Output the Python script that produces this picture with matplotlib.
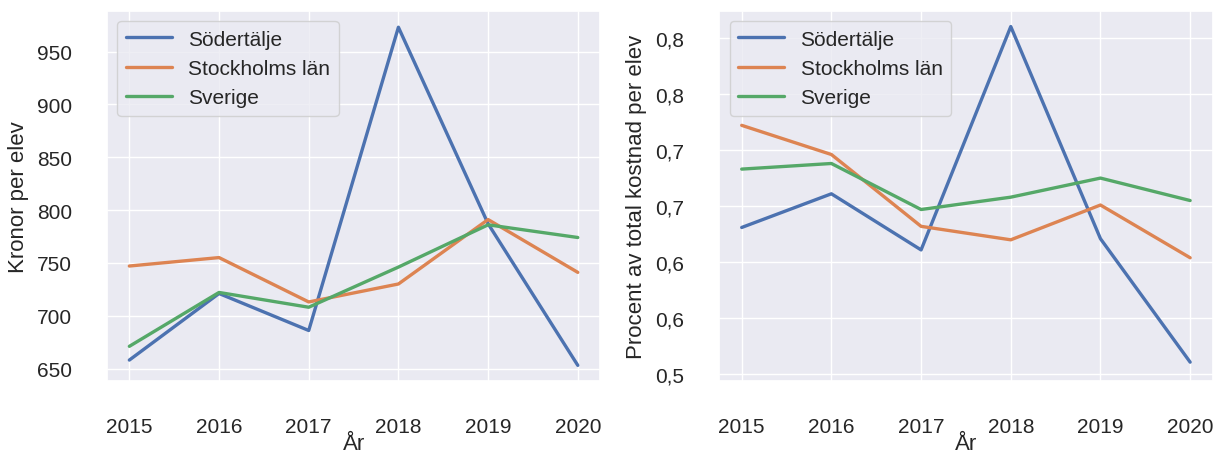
import matplotlib
matplotlib.use("Agg")
import matplotlib.pyplot as plt
import seaborn as sns

years = [2015, 2016, 2017, 2018, 2019, 2020]
series_names = ["Södertälje", "Stockholms län", "Sverige"]

kronor_sodertalje = [658, 721, 686, 973, 787, 653]
kronor_stockholm = [747, 755, 713, 730, 791, 741]
kronor_sverige = [671, 722, 708, 746, 786, 774]

procent_sodertalje = [0.631, 0.661, 0.611, 0.810, 0.621, 0.511]
procent_stockholm = [0.722, 0.696, 0.632, 0.620, 0.651, 0.604]
procent_sverige = [0.683, 0.688, 0.647, 0.658, 0.675, 0.655]

left_yticks = [650, 700, 750, 800, 850, 900, 950]
left_yticklabels = ["650", "700", "750", "800", "850", "900", "950"]
right_yticks = [0.50, 0.55, 0.60, 0.65, 0.70, 0.75, 0.80]
right_yticklabels = ["0,5", "0,6", "0,6", "0,7", "0,7", "0,8", "0,8"]

ylabel_left = "Kronor per elev"
ylabel_right = "Procent av total kostnad per elev"
xlabel = "År"

sns.set_theme(style="darkgrid")
plt.rcParams['font.family'] = ['Liberation Sans', 'DejaVu Sans']

colors = sns.color_palette("deep")[:3]

fig = plt.figure(figsize=(12.15, 4.56), dpi=100)
ax1 = fig.add_axes([0.088, 0.163, 0.406, 0.811])
ax2 = fig.add_axes([0.592, 0.163, 0.406, 0.811])

FS = 15

def style(ax, ylabel, yticks, yticklabels, data):
    for vals, name, c in zip(data, series_names, colors):
        ax.plot(years, vals, color=c, lw=2.4, label=name)
    ax.set_xticks(years)
    ax.set_xticklabels([str(y) for y in years], fontsize=FS)
    ax.set_yticks(yticks)
    ax.set_yticklabels(yticklabels, fontsize=FS)
    ax.tick_params(axis='x', pad=20, colors='#262626')
    ax.tick_params(axis='y', pad=19, colors='#262626')
    ax.set_xlabel(xlabel, fontsize=FS + 1, labelpad=-2, color='#262626')
    ax.set_ylabel(ylabel, fontsize=FS + 1, labelpad=6, color='#262626')
    leg = ax.legend(loc='upper left', fontsize=FS, handlelength=2.2,
                    borderaxespad=0.5, labelspacing=0.5, frameon=True)
    for t in leg.get_texts():
        t.set_color('#262626')

style(ax1, ylabel_left, left_yticks, left_yticklabels,
      [kronor_sodertalje, kronor_stockholm, kronor_sverige])
style(ax2, ylabel_right, right_yticks, right_yticklabels,
      [procent_sodertalje, procent_stockholm, procent_sverige])

ax1.set_xlim(2014.75, 2020.25)
ax2.set_xlim(2014.75, 2020.25)
ax1.set_ylim(638.5, 988.5)
ax2.set_ylim(0.4945, 0.824)

fig.savefig("out.png", dpi=100)
